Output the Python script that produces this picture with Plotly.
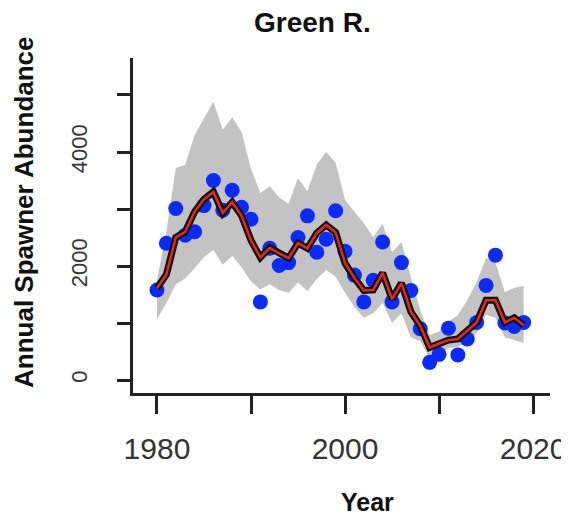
import plotly.graph_objects as go

years = list(range(1980, 2020))

observed = [1580, 2400, 3010, 2540, 2600, 3060, 3500, 2980, 3330, 3030,
            2820, 1370, 2310, 2010, 2060, 2500, 2880, 2240, 2470, 2970,
            2260, 1840, 1370, 1750, 2420, 1370, 2060, 1570, 900, 310,
            450, 910, 440, 720, 1010, 1660, 2190, 1000, 940, 1010]

median = [1610, 1850, 2500, 2600, 2950, 3170, 3300, 2930, 3120, 2880,
          2450, 2150, 2320, 2220, 2140, 2400, 2310, 2580, 2720, 2590,
          2050, 1790, 1570, 1580, 1880, 1420, 1700, 1200, 950, 570,
          640, 700, 720, 870, 1010, 1400, 1400, 1010, 1090, 960]

upper = [1750, 2600, 3720, 3770, 4300, 4600, 4880, 4390, 4610, 4350,
         3700, 3280, 3400, 3200, 3090, 3540, 3310, 3780, 4000, 3810,
         3160, 2950, 2750, 2510, 2740, 2240, 2420, 1800, 1230, 790,
         850, 1020, 1140, 1400, 1720, 2140, 2060, 1540, 1620, 1650]

lower = [1070, 1350, 1680, 1780, 1960, 2160, 2280, 2020, 2180, 1980,
         1730, 1590, 1680, 1580, 1530, 1710, 1560, 1770, 1930, 1810,
         1530, 1280, 1090, 1170, 1350, 1000, 1170, 750, 680, 380,
         440, 560, 580, 670, 820, 1140, 1090, 750, 700, 650]

x_ticks = [1980, 1990, 2000, 2010, 2020]
x_tick_text = ["1980", "", "2000", "", "2020"]
y_ticks = [0, 1000, 2000, 3000, 4000, 5000]
y_tick_text = ["0", "", "2000", "", "4000", ""]

fig = go.Figure()

fig.add_trace(go.Scatter(x=years, y=upper, mode="lines", line=dict(width=0),
                         showlegend=False, hoverinfo="skip"))
fig.add_trace(go.Scatter(x=years, y=lower, mode="lines", line=dict(width=0),
                         fill="tonexty", fillcolor="#c3c3c3",
                         showlegend=False, hoverinfo="skip"))
fig.add_trace(go.Scatter(x=years, y=observed, mode="markers",
                         marker=dict(color="#0a2bff", size=15, line=dict(width=0)),
                         showlegend=False))
fig.add_trace(go.Scatter(x=years, y=median, mode="lines",
                         line=dict(color="#111111", width=7),
                         showlegend=False))
fig.add_trace(go.Scatter(x=years, y=median, mode="lines",
                         line=dict(color="#e8261c", width=2.5),
                         showlegend=False))

# page has an 8 px body margin, so the plot box is placed 8 px up/left
ML, MT, MR, MB = 125, 50, 27, 132
PH = 517 - MT - MB  # plot height in px
PW = 569 - ML - MR

fig.update_layout(
    width=569, height=517,
    margin=dict(l=ML, r=MR, t=MT, b=MB),
    plot_bgcolor="white", paper_bgcolor="white",
    font=dict(family="Liberation Sans, Arial, sans-serif", color="#222222"),
    xaxis=dict(range=[1977.45, 2021.8], tickvals=x_ticks, ticktext=x_tick_text,
               showgrid=False, zeroline=False, showline=True, linecolor="#222222",
               linewidth=2.5, ticks="outside", ticklen=18, tickwidth=2.5,
               tickcolor="#222222", tickfont=dict(size=30, color="#333333"),
               ticklabelstandoff=9),
    yaxis=dict(range=[-228, 5649], tickvals=y_ticks, ticktext=y_tick_text,
               showgrid=False, zeroline=False, showline=True, linecolor="#222222",
               linewidth=2.5, ticks="outside", ticklen=13, tickwidth=2.5,
               tickcolor="#222222", tickangle=-90,
               tickfont=dict(size=22, color="#333333"),
               ticklabelstandoff=21),
    annotations=[
        dict(text="<b>Green R.</b>", x=(304 - ML) / PW, y=(MT + PH - 14) / PH,
             xref="paper", yref="paper", showarrow=False,
             font=dict(size=28, color="#111111"),
             xanchor="center", yanchor="middle"),
        dict(text="<b>Year</b>", x=(359 - ML) / PW, y=(MT + PH - 494) / PH,
             xref="paper", yref="paper", showarrow=False,
             font=dict(size=25, color="#111111"),
             xanchor="center", yanchor="middle"),
        dict(text="<b>Annual Spawner Abundance</b>", x=(16 - ML) / PW,
             y=(MT + PH - 204) / PH,
             xref="paper", yref="paper", showarrow=False, textangle=-90,
             font=dict(size=26, color="#111111"),
             xanchor="center", yanchor="middle", borderpad=0),
    ],
)

fig.write_html("out.html")
